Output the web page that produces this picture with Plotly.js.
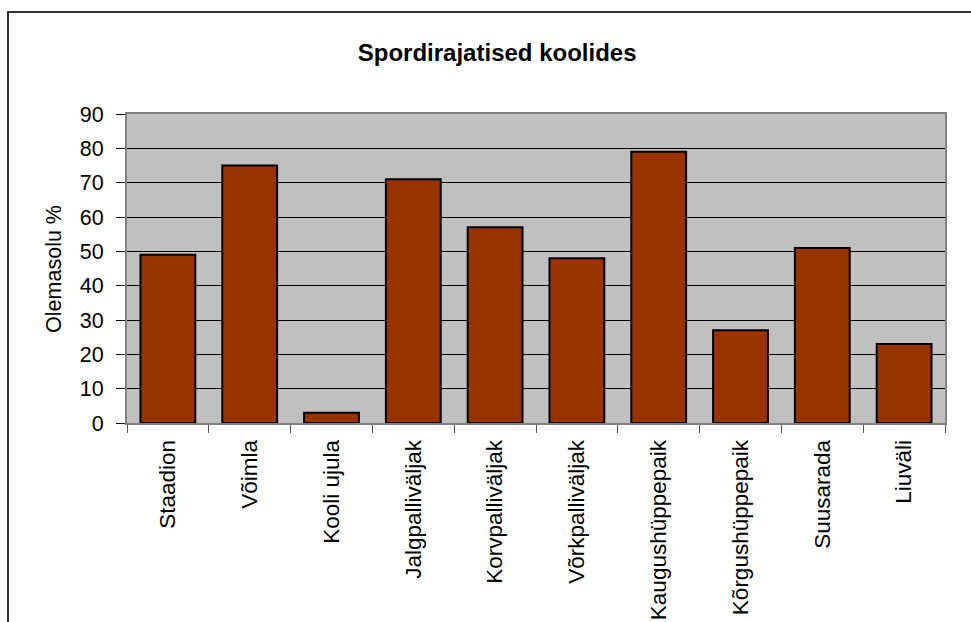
<!DOCTYPE html>
<html>
<head>
<meta charset="utf-8">
<script src="https://cdn.plot.ly/plotly-3.0.1.min.js"></script>
<style>
  html, body { margin: 0; padding: 0; background: #ffffff; overflow: hidden; }
  #chart { position: absolute; left: 0; top: 0; width: 971px; height: 622px; }
  #frame { position: absolute; left: 7px; top: 11px; width: 1000px; height: 700px;
           border-left: 2px solid #333333; border-top: 2px solid #333333; pointer-events: none; }
</style>
</head>
<body>
<div id="chart"></div>
<div id="frame"></div>
<script>
const chartTitle = "Spordirajatised koolides";
const yAxisTitle = "Olemasolu %";
const categories = ["Staadion", "Võimla", "Kooli ujula", "Jalgpalliväljak", "Korvpalliväljak",
                    "Võrkpalliväljak", "Kaugushüppepaik", "Kõrgushüppepaik", "Suusarada", "Liuväli"];
const values = [49, 75, 3, 71, 57, 48, 79, 27, 51, 23];
const yTickValues = [0, 10, 20, 30, 40, 50, 60, 70, 80, 90];

const fontFamily = "'Liberation Sans', Arial, sans-serif";

const trace = {
  type: "bar",
  x: categories,
  y: values,
  marker: { color: "#993300", line: { color: "#000000", width: 2 } },
  hoverinfo: "x+y"
};

const layout = {
  width: 971,
  height: 622,
  margin: { l: 127, r: 26, t: 114, b: 199 },
  paper_bgcolor: "#ffffff",
  plot_bgcolor: "#c0c0c0",
  showlegend: false,
  bargap: 0.33,
  font: { family: fontFamily, color: "#000000", size: 21 },
  title: {
    text: "<b>" + chartTitle + "</b>",
    font: { family: fontFamily, size: 24, color: "#000000" },
    x: 0.512, xanchor: "center",
    y: 0.916, yanchor: "middle"
  },
  xaxis: {
    type: "category",
    tickangle: -90,
    tickson: "boundaries",
    ticks: "outside",
    ticklen: 8,
    tickcolor: "#555555",
    tickwidth: 1,
    ticklabelstandoff: 6,
    showline: true,
    linecolor: "#808080",
    linewidth: 2,
    mirror: true,
    showgrid: false,
    tickfont: { family: fontFamily, size: 22.5, color: "#000000" }
  },
  yaxis: {
    range: [0, 90],
    tickvals: yTickValues,
    ticktext: yTickValues.map(String),
    ticks: "outside",
    ticklen: 9,
    tickcolor: "#000000",
    tickwidth: 1,
    ticklabelstandoff: 8,
    showline: true,
    linecolor: "#808080",
    linewidth: 2,
    mirror: true,
    showgrid: true,
    gridcolor: "#000000",
    gridwidth: 1,
    zeroline: false,
    tickfont: { family: fontFamily, size: 21.5, color: "#000000" }
  },
  annotations: [{
    text: yAxisTitle,
    xref: "paper", yref: "paper",
    x: -0.09, y: 0.5,
    xanchor: "center", yanchor: "middle",
    textangle: -90,
    showarrow: false,
    font: { family: fontFamily, size: 21.5, color: "#000000" }
  }]
};

Plotly.newPlot("chart", [trace], layout, { displayModeBar: false, staticPlot: true });
</script>
</body>
</html>
